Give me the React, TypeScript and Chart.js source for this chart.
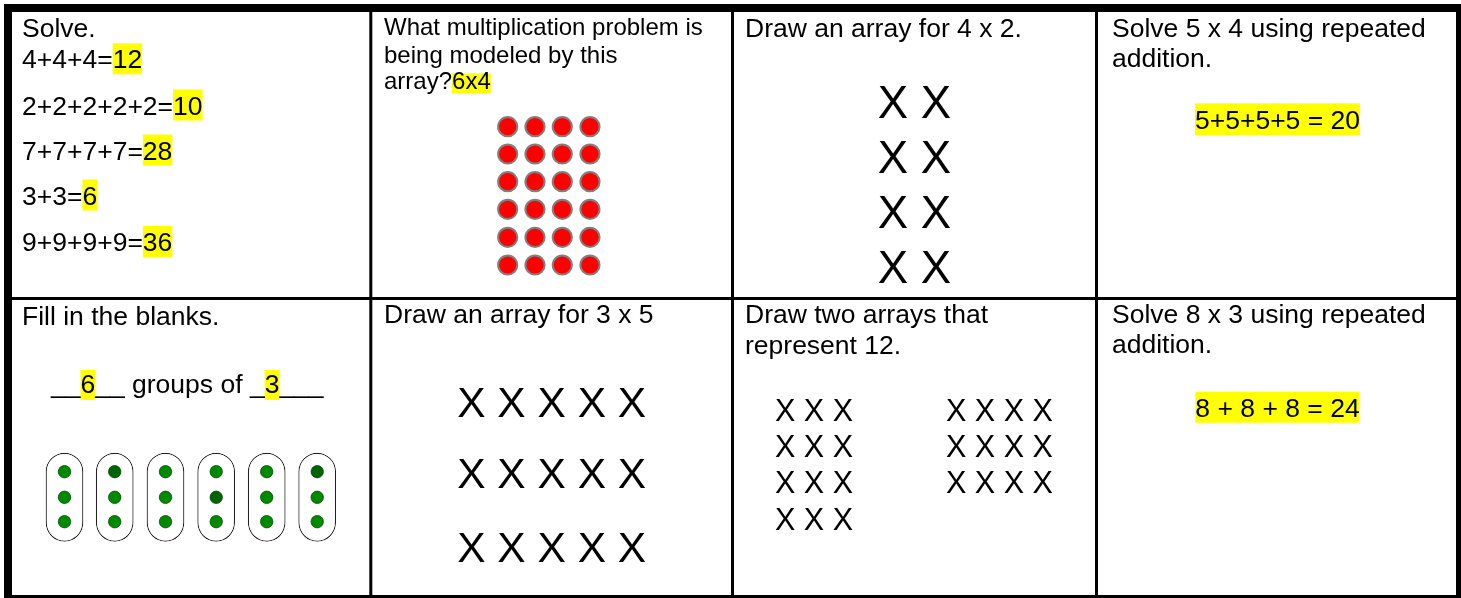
import React, { useEffect, useRef } from "react";
import { Chart, registerables } from "chart.js";

Chart.register(...registerables);

const PAGE_W = 1461;
const PAGE_H = 598;
const FONT = '"Liberation Sans", Arial, Helvetica, sans-serif';

// ---------- table grid (page units) ----------
const gridColumns = [8, 370.8, 732.5, 1096.5, 1458.5];
const gridRows = [8, 298.5, 596.5];

// ---------- cell 1 : Solve. ----------
const solveTitle = "Solve.";
const solveProblems = ["4+4+4=", "2+2+2+2+2=", "7+7+7+7=", "3+3=", "9+9+9+9="];
const solveAnswers = ["12", "10", "28", "6", "36"];
const solveBaselines = [68.3, 114.5, 159.5, 204.5, 251];

// ---------- cell 2 : modeled array ----------
const modelQuestion = ["What multiplication problem is", "being modeled by this", "array?"];
const modelAnswer = "6x4";
const modelBaselines = [34.5, 62.5, 89.3];
const redDotColumns = [507.7, 535, 562.3, 590];
const redDotRows = [126.7, 154, 181.7, 209.3, 237.3, 265];

// ---------- cell 3 : array 4 x 2 ----------
const array4x2Title = "Draw an array for 4 x 2.";
const array4x2Rows = ["X X", "X X", "X X", "X X"];
const array4x2Baselines = [118.3, 173.3, 228.3, 282.7];

// ---------- cell 4 : 5 x 4 ----------
const repeat5x4Title = ["Solve 5 x 4 using repeated", "addition."];
const repeat5x4Answer = "5+5+5+5 = 20";

// ---------- cell 5 : fill in the blanks ----------
const blanksTitle = "Fill in the blanks.";
const blanksSegments: [string, boolean][] = [
  ["__", false],
  ["6", true],
  ["__ groups of _", false],
  ["3", true],
  ["___", false],
];
const groupCenters = [64.5, 114.7, 165.5, 216.2, 266.7, 317.2];
const groupSpan = [452.7, 541.7];
const groupDotRows = [471.7, 497.3, 521.7];

// ---------- cell 6 : array 3 x 5 ----------
const array3x5Title = "Draw an array for 3 x 5";
const array3x5Rows = ["X X X X X", "X X X X X", "X X X X X"];
const array3x5Baselines = [416.7, 488.3, 561.7];

// ---------- cell 7 : two arrays of 12 ----------
const twelveTitle = ["Draw two arrays that", "represent 12."];
const twelveLeftRows = ["X X X", "X X X", "X X X", "X X X"];
const twelveRightRows = ["X X X X", "X X X X", "X X X X"];
const twelveBaselines = [420.7, 456.7, 493.3, 530];

// ---------- cell 8 : 8 x 3 ----------
const repeat8x3Title = ["Solve 8 x 3 using repeated", "addition."];
const repeat8x3Answer = "8 + 8 + 8 = 24";

// ---------- styles ----------
const TEXT_SIZE = 26.5;
const SMALL_SIZE = 24;
const HIGHLIGHT = "#ffff00";
const colLineWidths = [8, 3, 3, 3, 5];
const rowLineWidths = [8, 3, 3];
const darkGreenDots = ["1-0", "3-1", "5-0"];

type Run = {
  x: number;
  y: number;
  size: number;
  align: "left" | "center";
  segs: [string, boolean][];
  up: number;
  down: number;
};

function plain(x: number, y: number, t: string, size = TEXT_SIZE, align: "left" | "center" = "left"): Run {
  return { x, y, size, align, segs: [[t, false]], up: 25, down: 6 };
}

function buildRuns(): Run[] {
  const c = gridColumns;
  const runs: Run[] = [];
  // cell 1
  runs.push(plain(22, 37, solveTitle));
  solveProblems.forEach((p, i) => {
    runs.push({ x: 22, y: solveBaselines[i], size: TEXT_SIZE, align: "left", segs: [[p, false], [solveAnswers[i], true]], up: 25, down: 6 });
  });
  // cell 2
  modelQuestion.forEach((q, i) => {
    if (i < modelQuestion.length - 1) runs.push(plain(384, modelBaselines[i], q, SMALL_SIZE));
    else runs.push({ x: 384, y: modelBaselines[i], size: SMALL_SIZE, align: "left", segs: [[q, false], [modelAnswer, true]], up: 16, down: 4 });
  });
  // cell 3
  runs.push(plain(745, 36.7, array4x2Title));
  const mid3 = (c[2] + c[3]) / 2;
  array4x2Rows.forEach((row, i) => runs.push(plain(mid3, array4x2Baselines[i], row, 45.5, "center")));
  // cell 4
  runs.push(plain(1112, 36.7, repeat5x4Title[0]));
  runs.push(plain(1112, 66.7, repeat5x4Title[1]));
  const mid4 = (c[3] + c[4]) / 2;
  runs.push({ x: mid4, y: 129.3, size: TEXT_SIZE, align: "center", segs: [[repeat5x4Answer, true]], up: 26, down: 5.7 });
  // cell 5
  runs.push(plain(22, 325, blanksTitle));
  runs.push({ x: 51, y: 393.3, size: TEXT_SIZE, align: "left", segs: blanksSegments, up: 23.3, down: 6.7 });
  // cell 6
  runs.push(plain(384, 323.3, array3x5Title));
  const mid6 = (c[1] + c[2]) / 2;
  array3x5Rows.forEach((row, i) => runs.push(plain(mid6, array3x5Baselines[i], row, 42.5, "center")));
  // cell 7
  runs.push(plain(745, 323.3, twelveTitle[0]));
  runs.push(plain(745, 354, twelveTitle[1]));
  twelveLeftRows.forEach((row, i) => runs.push(plain(775, twelveBaselines[i], row, 30.5)));
  twelveRightRows.forEach((row, i) => runs.push(plain(946, twelveBaselines[i], row, 30.5)));
  // cell 8
  runs.push(plain(1112, 323.3, repeat8x3Title[0]));
  runs.push(plain(1112, 353.3, repeat8x3Title[1]));
  runs.push({ x: mid4, y: 417.3, size: TEXT_SIZE, align: "center", segs: [[repeat8x3Answer, true]], up: 25.6, down: 5.4 });
  return runs;
}

const textPlugin = {
  id: "worksheetText",
  afterDatasetsDraw(chart: any) {
    const { ctx } = chart;
    const xs = chart.scales.x;
    const ys = chart.scales.y;
    const runs = buildRuns();
    ctx.save();
    ctx.textBaseline = "alphabetic";
    ctx.textAlign = "left";
    for (const run of runs) {
      ctx.font = `${run.size}px ${FONT}`;
      const widths = run.segs.map((s) => ctx.measureText(s[0]).width);
      const total = widths.reduce((a, b) => a + b, 0);
      let px = xs.getPixelForValue(run.x);
      if (run.align === "center") px -= total / 2;
      const py = ys.getPixelForValue(run.y);
      const top = ys.getPixelForValue(run.y - run.up);
      const bottom = ys.getPixelForValue(run.y + run.down);
      let cx = px;
      run.segs.forEach((s, i) => {
        if (s[1]) {
          ctx.fillStyle = HIGHLIGHT;
          ctx.fillRect(cx, Math.min(top, bottom), widths[i], Math.abs(bottom - top));
        }
        cx += widths[i];
      });
      ctx.fillStyle = "#000000";
      cx = px;
      run.segs.forEach((s, i) => {
        ctx.fillText(s[0], cx, py);
        cx += widths[i];
      });
    }
    ctx.restore();
  },
};

export default function App() {
  const ref = useRef<HTMLCanvasElement | null>(null);

  useEffect(() => {
    if (!ref.current) return;
    const c = gridColumns;
    const r = gridRows;

    const lineSets: any[] = [];
    c.forEach((x, i) => {
      lineSets.push({
        type: "line",
        data: [{ x, y: r[0] }, { x, y: r[r.length - 1] }],
        borderColor: "#000000",
        borderWidth: colLineWidths[i],
        borderCapStyle: "square",
        pointRadius: 0,
        fill: false,
        tension: 0,
        clip: false,
        order: 5,
      });
    });
    r.forEach((y, i) => {
      lineSets.push({
        type: "line",
        data: [{ x: c[0], y }, { x: c[c.length - 1], y }],
        borderColor: "#000000",
        borderWidth: rowLineWidths[i],
        borderCapStyle: "square",
        pointRadius: 0,
        fill: false,
        tension: 0,
        clip: false,
        order: 5,
      });
    });

    const redDots: any[] = [];
    redDotRows.forEach((y) => redDotColumns.forEach((x) => redDots.push({ x, y })));

    const greenDots: any[] = [];
    const greenColors: string[] = [];
    groupCenters.forEach((x, gi) =>
      groupDotRows.forEach((y, ri) => {
        greenDots.push({ x, y });
        greenColors.push(darkGreenDots.includes(`${gi}-${ri}`) ? "#006400" : "#008a00");
      })
    );

    const chart = new Chart(ref.current, {
      type: "scatter",
      data: {
        datasets: [
          ...lineSets,
          {
            type: "bar",
            data: groupCenters.map((x) => ({ x, y: [groupSpan[0], groupSpan[1]] })),
            backgroundColor: "#ffffff",
            borderColor: "#222222",
            borderWidth: 1.2,
            borderSkipped: false,
            borderRadius: 19,
            barThickness: 37.7,
            inflateAmount: 0,
            grouped: false,
            order: 4,
          },
          {
            type: "scatter",
            data: redDots,
            pointStyle: "circle",
            pointRadius: 9.6,
            pointBackgroundColor: "#ff0000",
            pointBorderColor: "#808080",
            pointBorderWidth: 2,
            order: 1,
          },
          {
            type: "scatter",
            data: greenDots,
            pointStyle: "circle",
            pointRadius: 6.2,
            pointBackgroundColor: greenColors,
            pointBorderColor: "#004a00",
            pointBorderWidth: 0.8,
            order: 1,
          },
        ] as any,
      },
      options: {
        responsive: false,
        animation: false,
        devicePixelRatio: 1,
        events: [],
        layout: { padding: 0, autoPadding: false },
        plugins: {
          legend: { display: false },
          tooltip: { enabled: false },
          title: { display: false },
        },
        scales: {
          x: { type: "linear", min: 0, max: PAGE_W, display: false, offset: false, grid: { offset: false } },
          y: { type: "linear", min: 0, max: PAGE_H, reverse: true, display: false, offset: false, grid: { offset: false } },
        },
      } as any,
      plugins: [textPlugin],
    });
    return () => chart.destroy();
  }, []);

  return (
    <div style={{ position: "fixed", left: 0, top: 0, width: PAGE_W, height: PAGE_H, background: "#ffffff" }}>
      <canvas ref={ref} width={PAGE_W} height={PAGE_H} style={{ display: "block", width: PAGE_W, height: PAGE_H }} />
    </div>
  );
}
